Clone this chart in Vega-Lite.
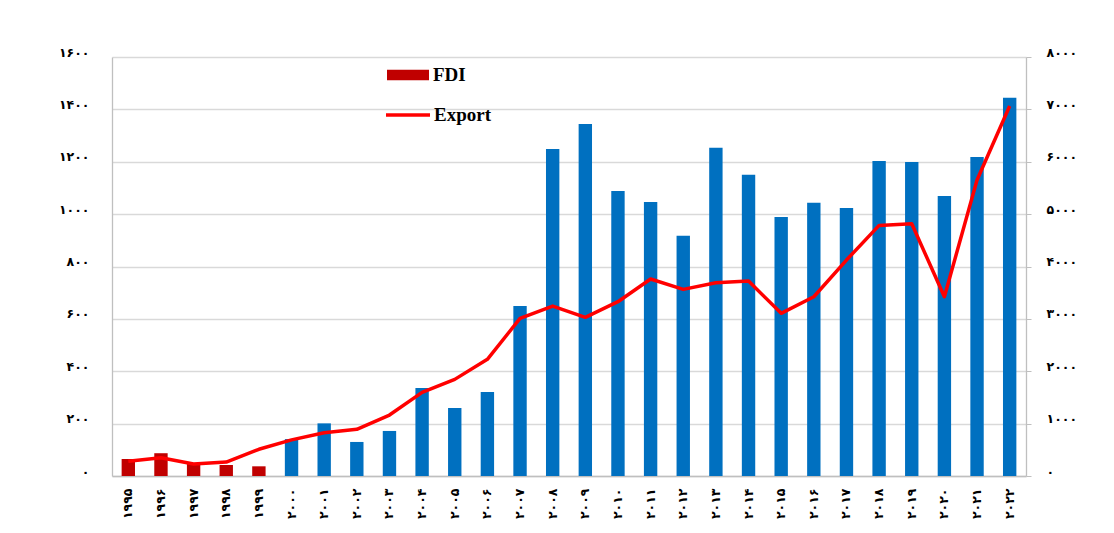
{
  "$schema": "https://vega.github.io/schema/vega-lite/v6.json",
  "autosize": "none",
  "width": 914,
  "height": 419,
  "padding": {"left": 112, "top": 57, "right": 88, "bottom": 57},
  "background": "white",
  "config": {
    "view": {"stroke": null},
    "axis": {"labelFont": "DejaVu Sans", "labelFontWeight": "bold", "labelFontSize": 12.5, "labelColor": "#000000", "domainColor": "#bfbfbf", "domainWidth": 1.3, "tickColor": "#bfbfbf"}
  },
  "data": {
    "values": [
      {"year": "۱۹۹۵", "fdi": 65, "export": 280, "c": "FDI"},
      {"year": "۱۹۹۶", "fdi": 87, "export": 350, "c": "FDI"},
      {"year": "۱۹۹۷", "fdi": 48, "export": 229, "c": "FDI"},
      {"year": "۱۹۹۸", "fdi": 42, "export": 267, "c": "FDI"},
      {"year": "۱۹۹۹", "fdi": 37, "export": 510, "c": "FDI"},
      {"year": "۲۰۰۰", "fdi": 141, "export": 690, "c": "FDI2"},
      {"year": "۲۰۰۱", "fdi": 201, "export": 827, "c": "FDI2"},
      {"year": "۲۰۰۲", "fdi": 130, "export": 891, "c": "FDI2"},
      {"year": "۲۰۰۳", "fdi": 172, "export": 1164, "c": "FDI2"},
      {"year": "۲۰۰۴", "fdi": 336, "export": 1597, "c": "FDI2"},
      {"year": "۲۰۰۵", "fdi": 260, "export": 1845, "c": "FDI2"},
      {"year": "۲۰۰۶", "fdi": 321, "export": 2227, "c": "FDI2"},
      {"year": "۲۰۰۷", "fdi": 649, "export": 3010, "c": "FDI2"},
      {"year": "۲۰۰۸", "fdi": 1249, "export": 3245, "c": "FDI2"},
      {"year": "۲۰۰۹", "fdi": 1344, "export": 3029, "c": "FDI2"},
      {"year": "۲۰۱۰", "fdi": 1088, "export": 3328, "c": "FDI2"},
      {"year": "۲۰۱۱", "fdi": 1046, "export": 3761, "c": "FDI2"},
      {"year": "۲۰۱۲", "fdi": 917, "export": 3563, "c": "FDI2"},
      {"year": "۲۰۱۳", "fdi": 1253, "export": 3690, "c": "FDI2"},
      {"year": "۲۰۱۴", "fdi": 1150, "export": 3722, "c": "FDI2"},
      {"year": "۲۰۱۵", "fdi": 989, "export": 3106, "c": "FDI2"},
      {"year": "۲۰۱۶", "fdi": 1043, "export": 3423, "c": "FDI2"},
      {"year": "۲۰۱۷", "fdi": 1023, "export": 4123, "c": "FDI2"},
      {"year": "۲۰۱۸", "fdi": 1203, "export": 4785, "c": "FDI2"},
      {"year": "۲۰۱۹", "fdi": 1199, "export": 4817, "c": "FDI2"},
      {"year": "۲۰۲۰", "fdi": 1069, "export": 3423, "c": "FDI2"},
      {"year": "۲۰۲۱", "fdi": 1218, "export": 5650, "c": "FDI2"},
      {"year": "۲۰۲۲", "fdi": 1444, "export": 7063, "c": "FDI2"}
    ]
  },
  "encoding": {
    "x": {
      "field": "year", "type": "nominal", "sort": null,
      "scale": {"paddingInner": 0.59, "paddingOuter": 0.295},
      "axis": {"title": null, "labelAngle": -90, "labelPadding": 12, "ticks": false}
    }
  },
  "layer": [
    {
      "mark": {"type": "bar"},
      "encoding": {
        "y": {
          "field": "fdi", "type": "quantitative",
          "scale": {"domain": [0, 1600], "nice": false},
          "axis": {
            "title": null, "values": [0, 200, 400, 600, 800, 1000, 1200, 1400, 1600],
            "grid": true, "gridColor": "#d9d9d9", "gridWidth": 1.3,
            "ticks": false, "labelPadding": 23, "labelOffset": -5,
            "labelExpr": "replace(replace(replace(replace(replace(replace(replace(replace(replace(replace(format(datum.value,'d'),/0/g,'۰'),/1/g,'۱'),/2/g,'۲'),/3/g,'۳'),/4/g,'۴'),/5/g,'۵'),/6/g,'۶'),/7/g,'۷'),/8/g,'۸'),/9/g,'۹')"
          }
        },
        "fill": {
          "field": "c", "type": "nominal",
          "scale": {"domain": ["FDI", "FDI2"], "range": ["#C00000", "#0070C0"]},
          "legend": {
            "values": ["FDI"], "title": null, "orient": "none", "legendX": 275, "legendY": -3,
            "padding": 0, "symbolType": "M-1,-0.25H1V0.25H-1Z", "symbolSize": 1764,
            "symbolStrokeWidth": 0, "symbolOpacity": 1,
            "labelFont": "Liberation Serif", "labelFontWeight": "bold", "labelFontSize": 19, "labelColor": "#000000", "labelOffset": 4
          }
        }
      }
    },
    {
      "mark": {"type": "line", "strokeWidth": 3.5, "strokeJoin": "round"},
      "encoding": {
        "y": {
          "field": "export", "type": "quantitative",
          "scale": {"domain": [0, 8000], "nice": false},
          "axis": {
            "title": null, "orient": "right", "values": [0, 1000, 2000, 3000, 4000, 5000, 6000, 7000, 8000],
            "grid": false, "ticks": true, "tickSize": 5, "labelPadding": 15, "labelOffset": -5,
            "labelExpr": "replace(replace(replace(replace(replace(replace(replace(replace(replace(replace(format(datum.value,'d'),/0/g,'۰'),/1/g,'۱'),/2/g,'۲'),/3/g,'۳'),/4/g,'۴'),/5/g,'۵'),/6/g,'۶'),/7/g,'۷'),/8/g,'۸'),/9/g,'۹')"
          }
        },
        "stroke": {
          "datum": "Export", "type": "nominal",
          "scale": {"domain": ["Export"], "range": ["#FF0000"]},
          "legend": {
            "title": null, "orient": "none", "legendX": 272, "legendY": 34,
            "padding": 0, "symbolType": "stroke", "symbolSize": 1936, "symbolStrokeWidth": 3.5,
            "labelFont": "Liberation Serif", "labelFontWeight": "bold", "labelFontSize": 19, "labelColor": "#000000", "labelOffset": 2
          }
        }
      }
    }
  ],
  "resolve": {"scale": {"y": "independent"}}
}
